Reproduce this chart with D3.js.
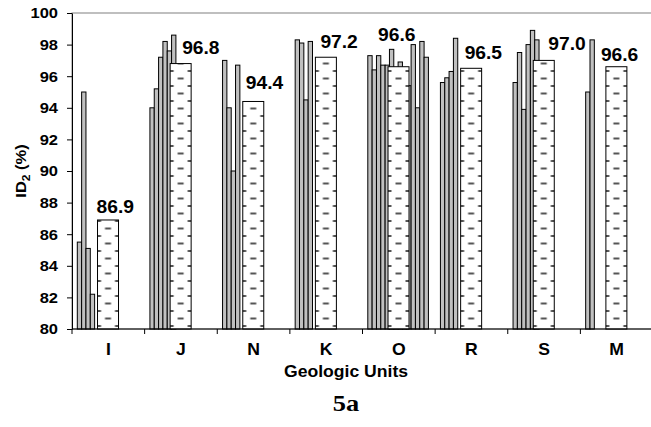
<!DOCTYPE html>
<html>
<head>
<meta charset="utf-8">
<script src="https://cdn.jsdelivr.net/npm/d3@7"></script>
<style>
  body { margin: 0; background: #fff; }
  text { font-family: "Liberation Sans", Arial, sans-serif; font-weight: bold; fill: #000; }
</style>
</head>
<body>
<div id="chart"></div>
<script>
// ----------------------------------------------
// Data
// ----------------------------------------------
const categories = ['I', 'J', 'N', 'K', 'O', 'R', 'S', 'M'];

// individual ID2 values per geologic unit (grey bars)
const sampleValues = [
  [85.5, 95.0, 85.1, 82.2],
  [94.0, 95.2, 97.2, 98.2, 97.6, 98.6],
  [97.0, 94.0, 90.0, 96.7],
  [98.3, 98.1, 94.5, 98.2],
  [97.3, 96.4, 97.3, 96.7, 96.7, 97.7, 95.5, 96.9, 95.0, 95.4, 98.0, 94.0, 98.2, 97.2],
  [95.6, 95.9, 96.3, 98.4],
  [95.6, 97.5, 93.9, 98.0, 98.9, 98.3],
  [95.0, 98.3]
];

// unit means (patterned bars)
const unitMeans = [86.9, 96.8, 94.4, 97.2, 96.6, 96.5, 97.0, 96.6];
const meanLabels = ['86.9', '96.8', '94.4', '97.2', '96.6', '96.5', '97.0', '96.6'];

const yTicks = [80, 82, 84, 86, 88, 90, 92, 94, 96, 98, 100];

// hand placed label offsets [dx from bar left, dy above bar top]
const labelNudge = [[-1, 7], [12, 10], [3, 12], [5, 9], [-10, 26], [4, 9], [15, 10], [-5, 6]];

// ----------------------------------------------
// Layout
// ----------------------------------------------
const width = 651, height = 427;
const plot = { left: 72, right: 653, top: 13, bottom: 329 };
const maxSlots = 14;
const slotW = 4.33;
const meanW = 21;
const stretch = 1.1; // the figure's lettering is a little wide

const svg = d3.select('#chart').append('svg')
  .attr('width', width)
  .attr('height', height);

const x = d3.scaleBand().domain(categories).range([plot.left, plot.right]).padding(0);
const slot = d3.scaleBand().domain(d3.range(maxSlots))
  .range([5.3, 5.3 + maxSlots * slotW]).padding(0);
const y = d3.scaleLinear().domain([80, 100]).range([plot.bottom, plot.top]);

function wideText(parent, tx, ty, size, anchor) {
  return parent.append('text')
    .attr('transform', `translate(${tx},${ty}) scale(${stretch},1)`)
    .attr('text-anchor', anchor || 'middle')
    .attr('font-size', size);
}

const defs = svg.append('defs');

// plot area border (grey)
svg.append('rect')
  .attr('x', plot.left).attr('y', plot.top)
  .attr('width', plot.right - plot.left).attr('height', plot.bottom - plot.top)
  .attr('fill', 'none').attr('stroke', '#808080').attr('stroke-width', 1);

// grey bars
categories.forEach((cat, ci) => {
  const rows = sampleValues[ci].map((v, i) => ({ v, i })).filter(d => d.v != null);
  svg.append('g')
    .selectAll('rect')
    .data(rows)
    .join('rect')
    .attr('x', d => x(cat) + slot(d.i))
    .attr('y', d => y(d.v))
    .attr('width', slot.bandwidth())
    .attr('height', d => y(80) - y(d.v))
    .attr('fill', '#c0c0c0')
    .attr('stroke', '#000')
    .attr('stroke-width', 1);
});

// mean bars with dashed pattern
categories.forEach((cat, ci) => {
  const bx = x(cat) + x.bandwidth() / 2 - meanW / 2 - 0.3;
  const pat = defs.append('pattern')
    .attr('id', 'dash' + ci)
    .attr('patternUnits', 'userSpaceOnUse')
    .attr('x', bx).attr('y', plot.bottom)
    .attr('width', meanW).attr('height', 15);
  pat.append('rect').attr('width', meanW).attr('height', 15).attr('fill', '#fff');
  pat.append('line')
    .attr('x1', meanW / 2 - 3).attr('x2', meanW / 2 + 3)
    .attr('y1', 4.5).attr('y2', 4.5)
    .attr('stroke', '#555').attr('stroke-width', 2);
  [0, meanW].forEach(ex => {
    pat.append('line')
      .attr('x1', ex - 3.5).attr('x2', ex + 3.5)
      .attr('y1', 12).attr('y2', 12)
      .attr('stroke', '#555').attr('stroke-width', 2);
  });

  svg.append('rect')
    .attr('x', bx)
    .attr('y', y(unitMeans[ci]))
    .attr('width', meanW)
    .attr('height', y(80) - y(unitMeans[ci]))
    .attr('fill', `url(#dash${ci})`)
    .attr('stroke', '#000')
    .attr('stroke-width', 1);

  wideText(svg, bx + labelNudge[ci][0], y(unitMeans[ci]) - labelNudge[ci][1], 17.5, 'start')
    .text(meanLabels[ci]);
});

// y axis
const yAxis = svg.append('g')
  .attr('transform', `translate(${plot.left},0)`)
  .call(d3.axisLeft(y).tickValues(yTicks).tickSize(5).tickSizeOuter(0).tickPadding(8));
yAxis.select('.domain').attr('stroke', '#000');
yAxis.selectAll('text')
  .attr('font-size', 15)
  .attr('font-family', '"Liberation Sans", Arial, sans-serif')
  .attr('transform', `scale(${stretch},1)`)
  .attr('x', -14 / stretch);

// x axis: ticks at category boundaries
const xAxis = svg.append('g');
xAxis.append('line')
  .attr('x1', plot.left).attr('x2', plot.right)
  .attr('y1', plot.bottom).attr('y2', plot.bottom)
  .attr('stroke', '#000');
xAxis.selectAll('line.tick')
  .data(categories)
  .join('line')
  .attr('class', 'tick')
  .attr('x1', d => x(d)).attr('x2', d => x(d))
  .attr('y1', plot.bottom).attr('y2', plot.bottom + 5)
  .attr('stroke', '#000');
categories.forEach(c => {
  wideText(xAxis, x(c) + x.bandwidth() / 2, 355, 16).text(c);
});

// axis titles
wideText(svg, 346, 377, 16).text('Geologic Units');

const yTitle = svg.append('text')
  .attr('transform', `translate(26,171) rotate(-90) scale(${stretch},1)`)
  .attr('text-anchor', 'middle')
  .attr('font-size', 15);
yTitle.append('tspan').text('ID');
yTitle.append('tspan').attr('font-size', 11).attr('dy', 4).text('2');
yTitle.append('tspan').attr('dy', -4).text(' (%)');

wideText(svg, 346, 411, 24)
  .style('font-family', '"Liberation Serif", "Times New Roman", serif')
  .text('5a');
</script>
</body>
</html>
